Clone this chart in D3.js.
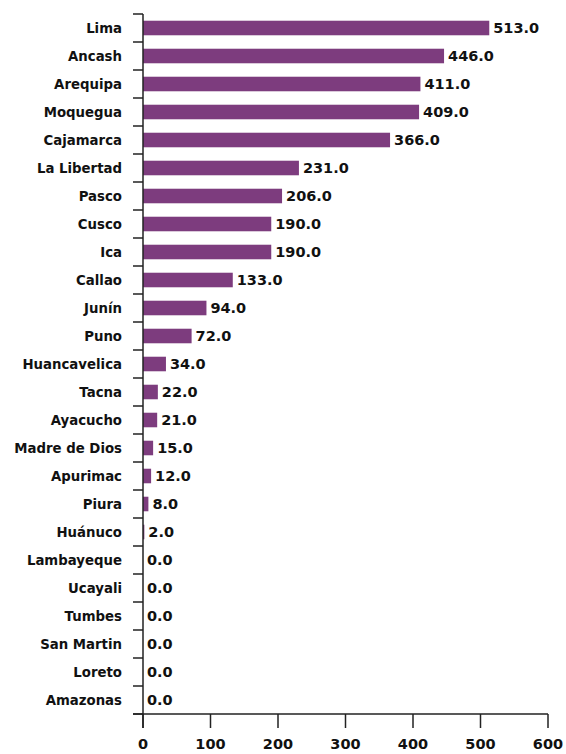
<!DOCTYPE html>
<html><head><meta charset="utf-8">
<script src="https://cdn.jsdelivr.net/npm/d3@7"></script>
<style>body{margin:0;background:#fff}svg{display:block}</style>
</head><body>
<svg id="c" width="566" height="754"></svg>
<script>
const regions = ["Lima","Ancash","Arequipa","Moquegua","Cajamarca","La Libertad","Pasco","Cusco","Ica","Callao","Junín","Puno","Huancavelica","Tacna","Ayacucho","Madre de Dios","Apurimac","Piura","Huánuco","Lambayeque","Ucayali","Tumbes","San Martin","Loreto","Amazonas"];
const values = [513,446,411,409,366,231,206,190,190,133,94,72,34,22,21,15,12,8,2,0,0,0,0,0,0];
const xTicks = [0,100,200,300,400,500,600];

(function(){
const svg = d3.select("#c");
const mL = 143, mR = 548, mT = 14, mB = 714;
const x = d3.scaleLinear().domain([0,600]).range([mL,mR]);
const y = d3.scaleBand().domain(regions).range([mT,mB]).paddingInner(0.48).paddingOuter(0.24);
const color = "#7d3c7e";
const font = "DejaVu Sans, Verdana, sans-serif";

svg.selectAll("rect.bar").data(values).enter().append("rect")
  .attr("class","bar")
  .attr("x", x(0))
  .attr("y", (d,i)=>y(regions[i]))
  .attr("width", d=>x(d)-x(0))
  .attr("height", y.bandwidth())
  .attr("fill", color);

svg.selectAll("text.val").data(values).enter().append("text")
  .attr("class","val")
  .attr("x", d=>x(d)+4)
  .attr("y", (d,i)=>y(regions[i])+y.bandwidth()/2)
  .attr("dy","0.36em")
  .attr("font-family",font).attr("font-weight","bold").attr("font-size",14.5)
  .attr("fill","#111")
  .text(d=>d.toFixed(1));

const step = y.step();
const g = svg.append("g");
g.append("line").attr("x1",mL).attr("x2",mL).attr("y1",mT).attr("y2",mB+14)
  .attr("stroke","#222").attr("stroke-width",1.5);
const bounds = d3.range(regions.length+1).map(i=>mT+i*step);
g.selectAll("line.yt").data(bounds).enter().append("line")
  .attr("x1",mL-10).attr("x2",mL).attr("y1",d=>d).attr("y2",d=>d)
  .attr("stroke","#222").attr("stroke-width",1.5);
g.selectAll("text.cat").data(regions).enter().append("text")
  .attr("x",122).attr("y",d=>y(d)+y.bandwidth()/2).attr("dy","0.36em")
  .attr("text-anchor","end")
  .attr("font-family",font).attr("font-weight","bold").attr("font-size",13.3)
  .attr("fill","#111")
  .text(d=>d);

const gx = svg.append("g");
gx.append("line").attr("x1",mL-10).attr("x2",mR).attr("y1",mB).attr("y2",mB)
  .attr("stroke","#222").attr("stroke-width",1.5);
gx.selectAll("line.xt").data(xTicks).enter().append("line")
  .attr("x1",d=>x(d)).attr("x2",d=>x(d)).attr("y1",mB).attr("y2",mB+14)
  .attr("stroke","#222").attr("stroke-width",1.5);
gx.selectAll("text.xl").data(xTicks).enter().append("text")
  .attr("x",d=>x(d)).attr("y",mB+30).attr("dy","0.36em")
  .attr("text-anchor","middle")
  .attr("font-family",font).attr("font-weight","bold").attr("font-size",14.5)
  .attr("fill","#111")
  .text(d=>d);
})();
</script>
</body></html>
